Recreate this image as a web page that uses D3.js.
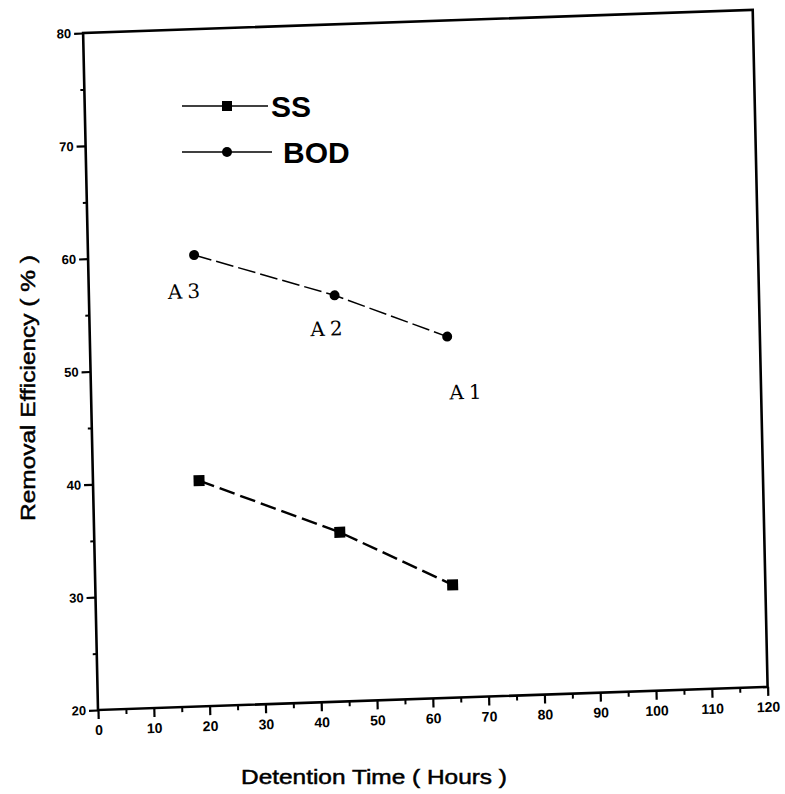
<html>
<head>
<script src="https://d3js.org/d3.v7.min.js"></script>
<style>
  body { margin: 0; background: #fff; }
  text { font-family: Arial, "Liberation Sans", sans-serif; fill: #000; }
</style>
</head>
<body>
<div id="chart"></div>
<script>
// detention time (hours) for the three reactors A3, A2, A1
const hours = [19, 44, 64];
const ssRemoval = [40, 35, 30];
const bodRemoval = [60, 56, 52];
const pointLabels = ["A3", "A2", "A1"];
const xTicks = [0, 10, 20, 30, 40, 50, 60, 70, 80, 90, 100, 110, 120];
const yTicks = [20, 30, 40, 50, 60, 70, 80];

const width = 785, height = 794;
const plotW = 670, plotH = 677;

const svg = d3.select("#chart").append("svg")
  .attr("width", width)
  .attr("height", height)
  .style("background", "#fff");

// the scanned figure is slightly skewed, so the plot sits in a tilted frame
const g = svg.append("g")
  .attr("transform", "matrix(0.9994,-0.0345,0.022,1,98,710)");

const x = d3.scaleLinear().domain([0, 120]).range([0, plotW]);
const y = d3.scaleLinear().domain([20, 80]).range([0, -plotH]);

// minor ticks first
g.append("g")
  .call(d3.axisBottom(x).tickValues(d3.range(5, 120, 10)).tickSize(5).tickFormat(""))
  .call(a => a.select(".domain").remove())
  .selectAll("line").attr("stroke-width", 2);
g.append("g")
  .call(d3.axisLeft(y).tickValues(d3.range(25, 80, 10)).tickSize(4).tickFormat(""))
  .call(a => a.select(".domain").remove())
  .selectAll("line").attr("stroke-width", 2);

const xAxis = g.append("g")
  .call(d3.axisBottom(x).tickValues(xTicks).tickSize(9).tickPadding(6).tickFormat(d3.format("d")));
xAxis.select(".domain").remove();
xAxis.selectAll("line").attr("stroke-width", 2.2);
xAxis.selectAll("text")
  .style("font-size", "14px").style("font-weight", "bold")
  .style("font-family", "Arial, 'Liberation Sans', sans-serif");

const yAxis = g.append("g")
  .call(d3.axisLeft(y).tickValues(yTicks).tickSize(9).tickPadding(3).tickFormat(d3.format("d")));
yAxis.select(".domain").remove();
yAxis.selectAll("line").attr("stroke-width", 2.2);
yAxis.selectAll("text")
  .style("font-size", "13px").style("font-weight", "bold")
  .style("font-family", "'Liberation Sans Narrow', Arial, sans-serif");

// frame
g.append("rect")
  .attr("x", 0).attr("y", -plotH)
  .attr("width", plotW).attr("height", plotH)
  .attr("fill", "none").attr("stroke", "#000").attr("stroke-width", 2.6);

const ssData = hours.map((h, i) => ({ h: h, v: ssRemoval[i] }));
const bodData = hours.map((h, i) => ({ h: h, v: bodRemoval[i], label: pointLabels[i] }));

const line = d3.line().x(d => x(d.h)).y(d => y(d.v));

g.append("path").datum(ssData)
  .attr("d", line).attr("fill", "none")
  .attr("stroke", "#000").attr("stroke-width", 2.4)
  .attr("stroke-dasharray", "16,6");

g.append("path").datum(bodData)
  .attr("d", line).attr("fill", "none")
  .attr("stroke", "#000").attr("stroke-width", 1.5)
  .attr("stroke-dasharray", "18,5");

g.selectAll(".ss").data(ssData).join("rect")
  .attr("class", "ss")
  .attr("x", d => x(d.h) - 5.5).attr("y", d => y(d.v) - 5.5)
  .attr("width", 11).attr("height", 11)
  .attr("fill", "#000");

g.selectAll(".bod").data(bodData).join("circle")
  .attr("class", "bod")
  .attr("cx", d => x(d.h)).attr("cy", d => y(d.v))
  .attr("r", 5).attr("fill", "#000");

// A labels sit below-left / below / well below each BOD point
const labelShift = [[-27, 43], [-25, 40], [1, 63]];
g.selectAll(".lab").data(bodData).join("text")
  .attr("class", "lab")
  .attr("x", (d, i) => x(d.h) + labelShift[i][0])
  .attr("y", (d, i) => y(d.v) + labelShift[i][1])
  .style("font-family", "'DejaVu Serif', 'Liberation Serif', serif")
  .style("font-size", "20px")
  .style("letter-spacing", "5px")
  .text(d => d.label);

// legend
const legend = svg.append("g");
const legendRows = [
  { name: "SS", y: 106, textX: 271, lineEnd: 268 },
  { name: "BOD", y: 152, textX: 283, lineEnd: 272 }
];
legendRows.forEach(r => {
  legend.append("line").attr("x1", 182).attr("x2", r.lineEnd)
    .attr("y1", r.y).attr("y2", r.y)
    .attr("stroke", "#000").attr("stroke-width", 1.6);
  if (r.name === "SS") {
    legend.append("rect").attr("x", 222).attr("y", r.y - 5)
      .attr("width", 10).attr("height", 10).attr("fill", "#000");
  } else {
    legend.append("circle").attr("cx", 227).attr("cy", r.y).attr("r", 5).attr("fill", "#000");
  }
  legend.append("text").attr("x", r.textX).attr("y", r.y + 11)
    .style("font-size", "30px").style("font-weight", "bold")
    .text(r.name);
});

// axis titles
svg.append("text")
  .attr("x", 374).attr("y", 784)
  .attr("text-anchor", "middle")
  .attr("textLength", 266).attr("lengthAdjust", "spacingAndGlyphs")
  .style("font-size", "21px")
  .style("stroke", "#000").style("stroke-width", 0.5)
  .text("Detention Time ( Hours )");

svg.append("text")
  .attr("transform", "translate(35,388) rotate(-90)")
  .attr("text-anchor", "middle")
  .attr("textLength", 266).attr("lengthAdjust", "spacingAndGlyphs")
  .style("font-size", "21px")
  .style("stroke", "#000").style("stroke-width", 0.5)
  .text("Removal Efficiency ( % )");
</script>
</body>
</html>
